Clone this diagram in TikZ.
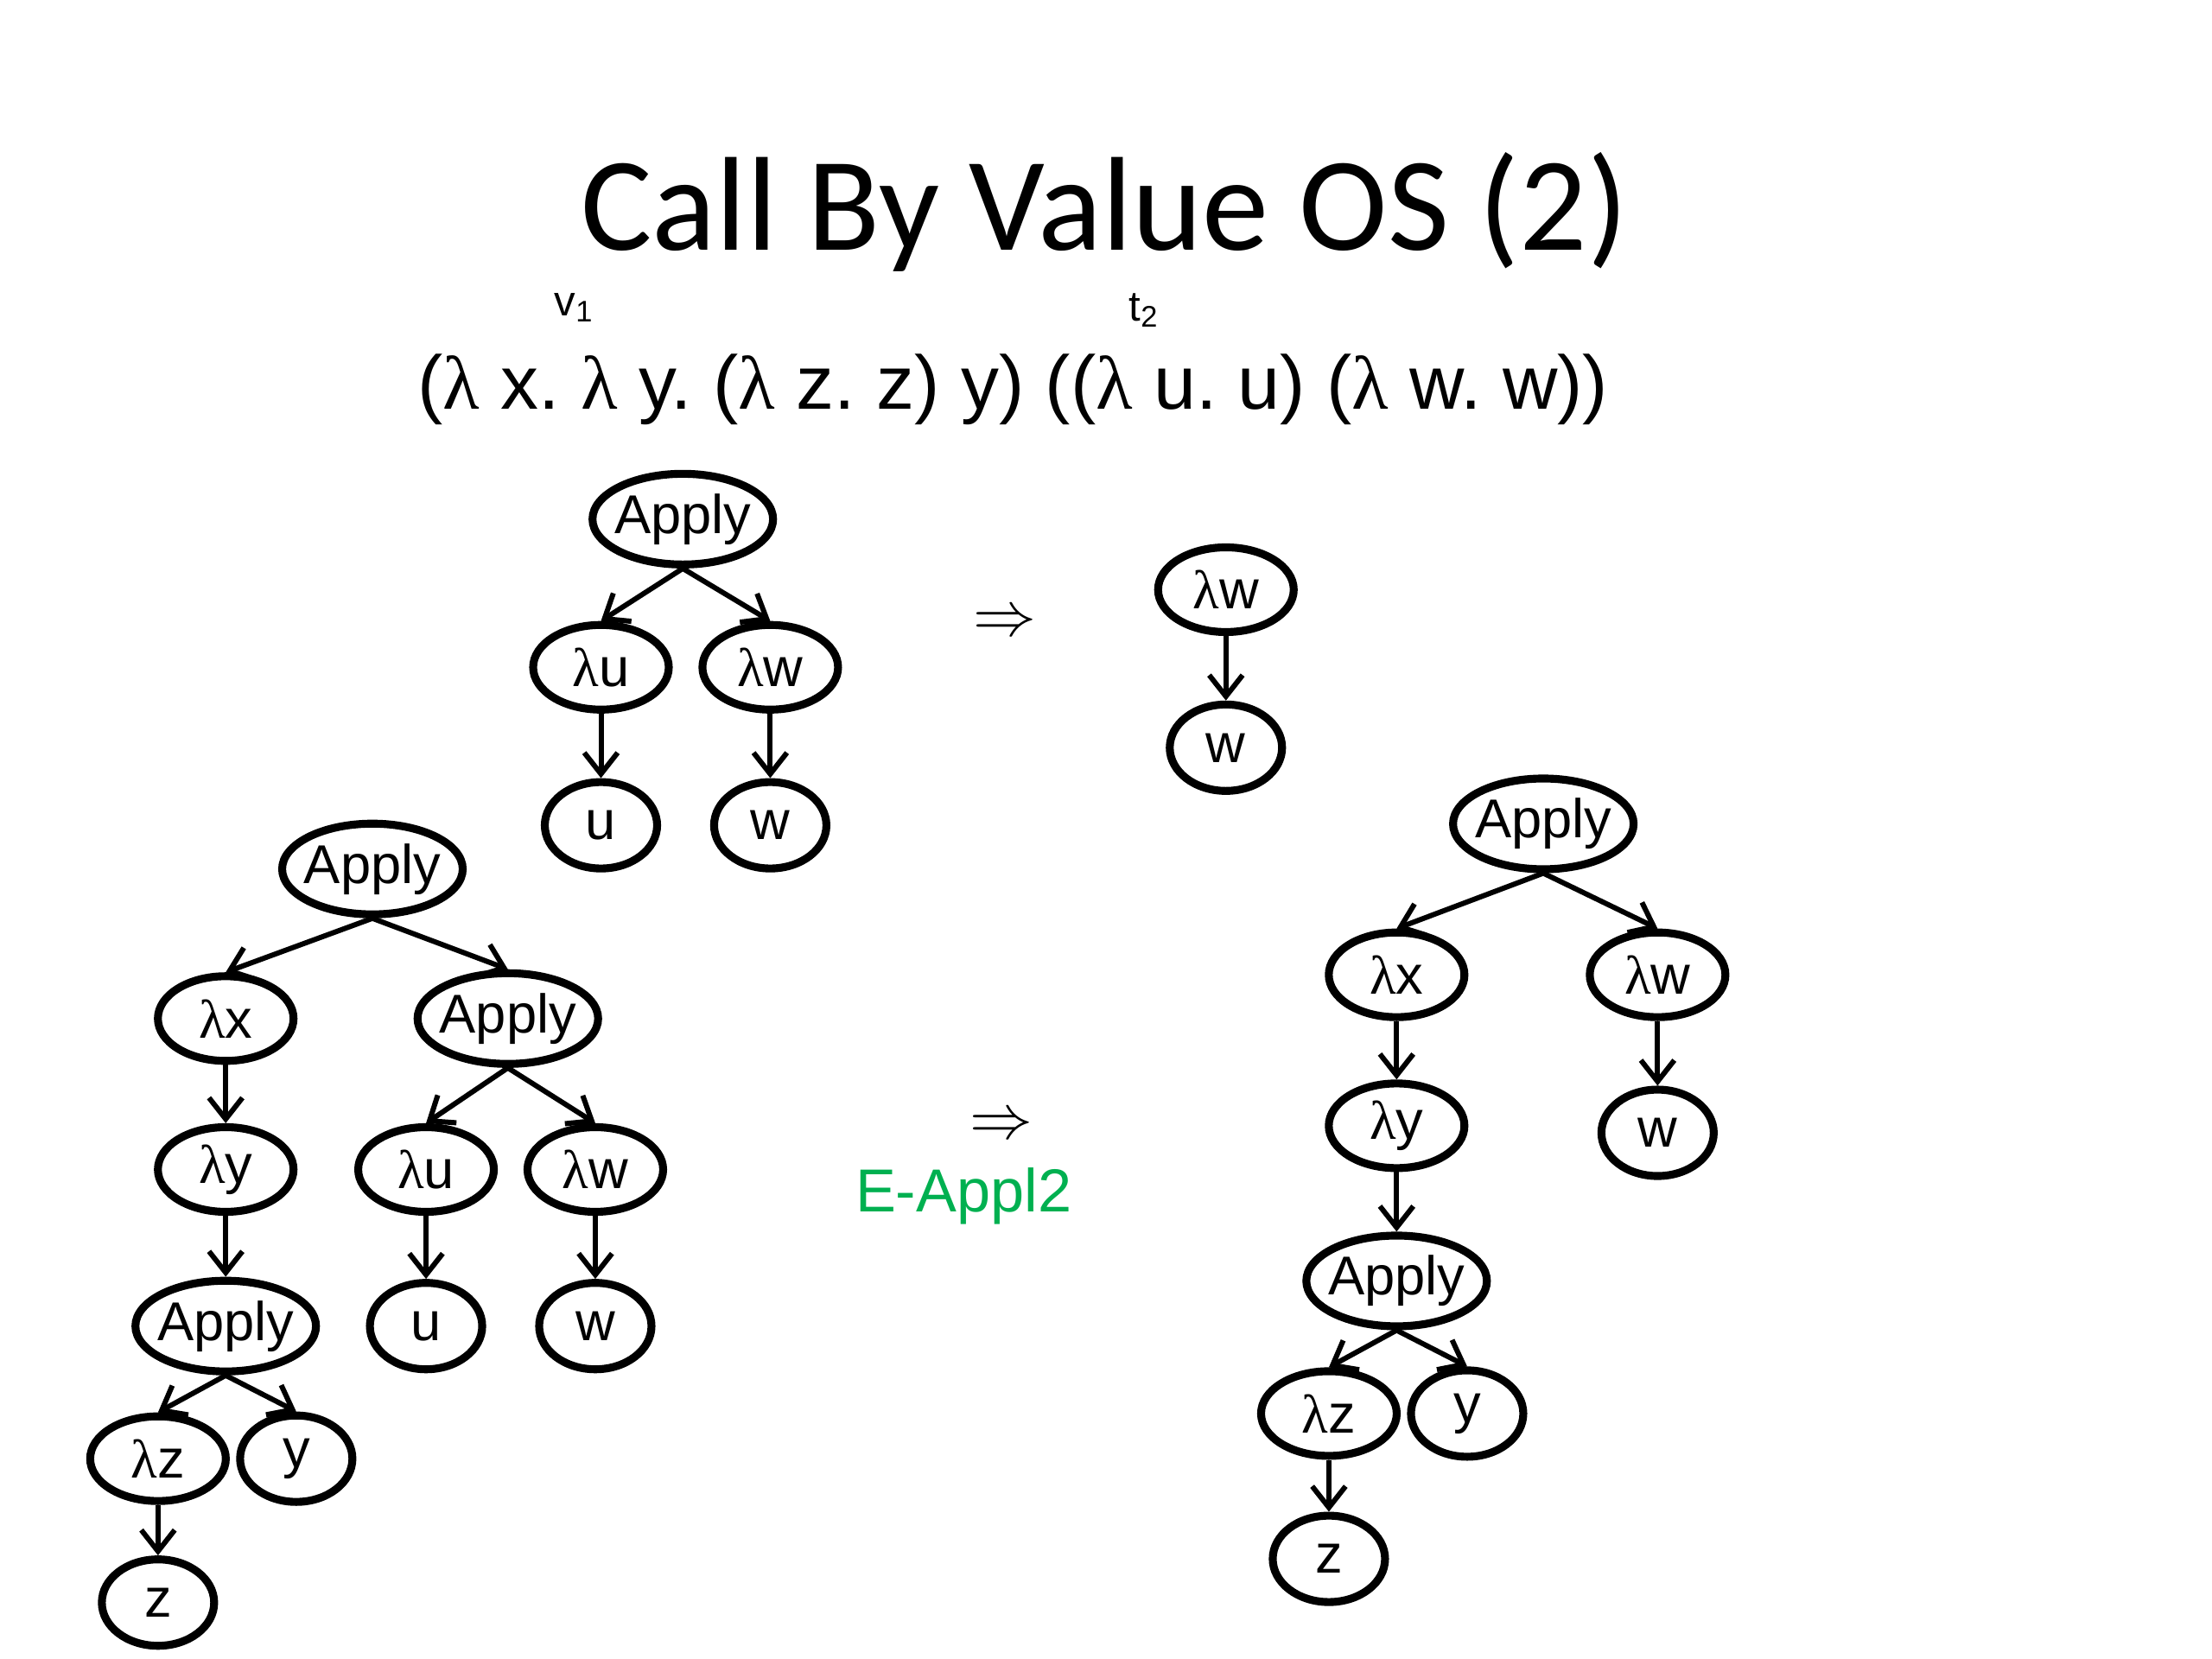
\documentclass[tikz,border=0pt]{standalone}
\usepackage{fontspec}
\setmainfont{Liberation Sans}
\newfontfamily\titlefont{Carlito}
\newfontfamily\lamfont{Liberation Serif}
\usetikzlibrary{shapes.geometric, arrows.meta}
\newcommand{\lam}{{\lamfont λ}}
\frenchspacing

\tikzset{
  tnode/.style={draw, ellipse, line width=2.6pt, inner sep=0pt,
    font=\fontsize{18}{20}\selectfont},
  appnode/.style={tnode, inner xsep=-1.6pt, minimum width=2.09cm, minimum height=1.05cm},
  lamnode/.style={tnode, minimum width=1.57cm, minimum height=0.98cm},
  varnode/.style={tnode, minimum width=1.3cm, minimum height=1.0cm},
  treearrow/.style={-{Straight Barb[length=7pt,width=11pt]}, line width=1.7pt}
}

\begin{document}
\begin{tikzpicture}[x=0.16327mm, y=-0.16327mm]
\useasboundingbox (0,0) rectangle (1568,1176);
% Title and term
\node[font=\titlefont\fontsize{44}{50}\selectfont] (title) at (783,150) {Call By Value OS (2)};
\node[font=\fontsize{25}{30}\selectfont] (term) at (718,276)
  {(\lam{} x. \lam{} y. (\lam{} z. z) y) ((\lam{} u. u) (\lam{} w. w))};
\node[font=\fontsize{14}{16}\selectfont] (v1) at (407,218) {v\textsubscript{1}};
\node[font=\fontsize{14}{16}\selectfont] (t2) at (811,220) {t\textsubscript{2}};

% Upper step: t2 reduces
\node[appnode] (ta) at (484,368) {Apply};
\node[lamnode] (tlu) at (426,473) {\lam u};
\node[lamnode] (tlw) at (546,473) {\lam w};
\node[varnode] (tu) at (426,585) {u};
\node[varnode] (tw) at (546,585) {w};
\draw[treearrow] (ta.south) -- (tlu.north);
\draw[treearrow] (ta.south) -- (tlw.north);
\draw[treearrow] (tlu.south) -- (tu.north);
\draw[treearrow] (tlw.south) -- (tw.north);

\node[font=\fontsize{20}{24}\selectfont] (step1) at (712,442) {$\Rightarrow$};

\node[lamnode] (rlw) at (869,418) {\lam w};
\node[varnode] (rw) at (869,530) {w};
\draw[treearrow] (rlw.south) -- (rw.north);

% Left tree
\node[appnode] (a1) at (264,616) {Apply};
\node[lamnode] (lx1) at (160,722) {\lam x};
\node[appnode] (a2) at (360,722) {Apply};
\node[lamnode] (ly1) at (160,829) {\lam y};
\node[lamnode] (lu1) at (302,829) {\lam u};
\node[lamnode] (lw1) at (422,829) {\lam w};
\node[appnode] (a3) at (160,940) {Apply};
\node[varnode] (u1) at (302,940) {u};
\node[varnode] (w1) at (422,940) {w};
\node[lamnode] (lz1) at (112,1034) {\lam z};
\node[varnode] (y1) at (210,1034) {y};
\node[varnode] (z1) at (112,1136) {z};
\draw[treearrow] (a1.south) -- (lx1.north);
\draw[treearrow] (a1.south) -- (a2.north);
\draw[treearrow] (lx1.south) -- (ly1.north);
\draw[treearrow] (a2.south) -- (lu1.north);
\draw[treearrow] (a2.south) -- (lw1.north);
\draw[treearrow] (ly1.south) -- (a3.north);
\draw[treearrow] (lu1.south) -- (u1.north);
\draw[treearrow] (lw1.south) -- (w1.north);
\draw[treearrow] (a3.south) -- (lz1.north);
\draw[treearrow] (a3.south) -- (y1.north);
\draw[treearrow] (lz1.south) -- (z1.north);

\node[font=\fontsize{20}{24}\selectfont] (step2) at (710,799) {$\Rightarrow$};
\node[font=\fontsize{20}{24}\selectfont, text={rgb,255:red,0;green,176;blue,80}] (rule) at (683,848) {E-Appl2};

% Right tree
\node[appnode] (a4) at (1094,584) {Apply};
\node[lamnode] (lx2) at (990,691) {\lam x};
\node[lamnode] (lw2) at (1175,691) {\lam w};
\node[lamnode] (ly2) at (990,798) {\lam y};
\node[varnode] (w2) at (1175,803) {w};
\node[appnode] (a5) at (990,908) {Apply};
\node[lamnode] (lz2) at (942,1002) {\lam z};
\node[varnode] (y2) at (1040,1002) {y};
\node[varnode] (z2) at (942,1105) {z};
\draw[treearrow] (a4.south) -- (lx2.north);
\draw[treearrow] (a4.south) -- (lw2.north);
\draw[treearrow] (lx2.south) -- (ly2.north);
\draw[treearrow] (lw2.south) -- (w2.north);
\draw[treearrow] (ly2.south) -- (a5.north);
\draw[treearrow] (a5.south) -- (lz2.north);
\draw[treearrow] (a5.south) -- (y2.north);
\draw[treearrow] (lz2.south) -- (z2.north);
\end{tikzpicture}
\end{document}
